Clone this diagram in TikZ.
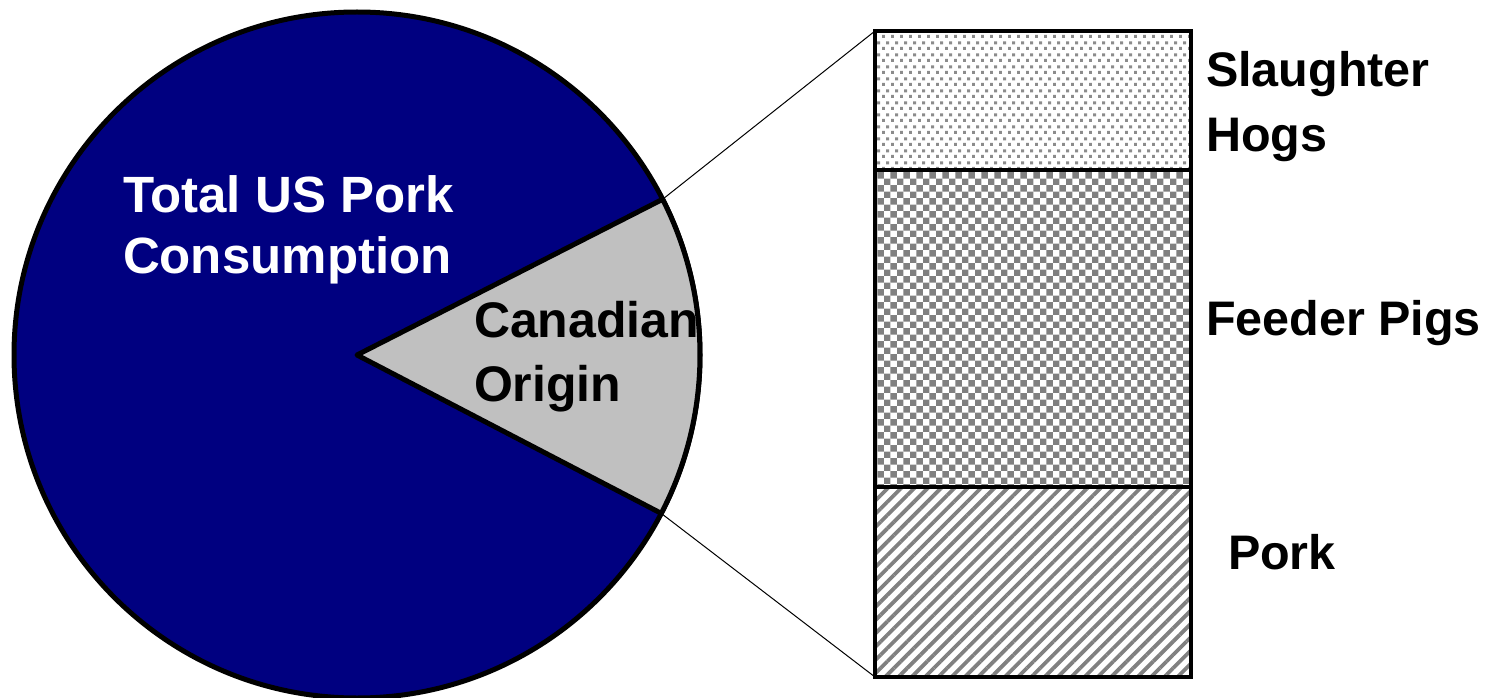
\documentclass[tikz,border=0pt]{standalone}
\usepackage{fontspec}
\setmainfont{Liberation Sans}
\usetikzlibrary{patterns.meta}
\definecolor{piepie}{HTML}{000080}
\definecolor{wedgegray}{HTML}{C0C0C0}
\definecolor{patgray}{HTML}{808080}
\definecolor{dotgray}{HTML}{8C8C8C}
\tikzdeclarepattern{
  name=checkerpat, type=uncolored,
  bounding box={(0pt,0pt) and (13.4pt,13.4pt)},
  tile size={(13.4pt,13.4pt)},
  code={\fill (0pt,0pt) rectangle (6.7pt,6.7pt);
        \fill (6.7pt,6.7pt) rectangle (13.4pt,13.4pt);}
}
\tikzdeclarepattern{
  name=dotpat, type=uncolored,
  bounding box={(0pt,0pt) and (9pt,12pt)},
  tile size={(9pt,12pt)},
  code={\fill (0pt,0pt) rectangle (3.3pt,3.3pt);
        \fill (4.5pt,6pt) rectangle (7.8pt,9.3pt);}
}
\tikzset{
  pieline/.style={line width=5pt, line join=round},
  section/.style={draw, line width=4.5pt, rectangle, inner sep=0pt, outer sep=0pt,
    minimum width=316pt, anchor=north west},
  zoomline/.style={line width=1pt},
  lab/.style={anchor=base west, inner sep=0pt, outer sep=0pt,
    font=\fontsize{48.5}{58}\selectfont\bfseries},
  midlab/.style={anchor=base west, inner sep=0pt, outer sep=0pt,
    font=\fontsize{50}{60}\selectfont\bfseries},
  biglab/.style={anchor=base west, inner sep=0pt, outer sep=0pt,
    font=\fontsize{51}{60}\selectfont\bfseries}
}
\begin{document}
\begin{tikzpicture}[x=1pt,y=-1pt]
\useasboundingbox (0,0) rectangle (1494,698);
\coordinate (c) at (357,355);
% pie
\draw[pieline, fill=piepie] (c) circle[radius=343];
\draw[pieline, fill=wedgegray] (c) -- ++(-27:343) coordinate (w1)
  arc[start angle=-27, end angle=27.5, radius=343] coordinate (w2) -- cycle;
% stacked bar
\node[section, minimum height=139pt, pattern={dotpat}, pattern color=dotgray] (sh) at (875,31) {};
\node[section, minimum height=317pt, pattern={checkerpat}, pattern color=patgray] (fp) at (875,170) {};
\node[section, minimum height=190pt, pattern={Lines[angle=45, distance=9.4pt, line width=3.8pt]}, pattern color=patgray] (pk) at (875,487) {};
% zoom lines
\draw[zoomline] (w1) -- (sh.north west);
\draw[zoomline] (w2) -- (pk.south west);
% labels
\node[biglab, text=white] (t1) at (123,212) {Total US Pork};
\node[biglab, text=white] (t2) at (123,273) {Consumption};
\node[midlab] (ca1) at (474,337) {Canadian};
\node[midlab] (ca2) at (474,401) {Origin};
\node[lab] (sl1) at (1206,87) {Slaughter};
\node[lab] (sl2) at (1206,152) {Hogs};
\node[lab] (fe) at (1206,335) {Feeder Pigs};
\node[lab] (po) at (1228,569) {Pork};
\end{tikzpicture}
\end{document}
